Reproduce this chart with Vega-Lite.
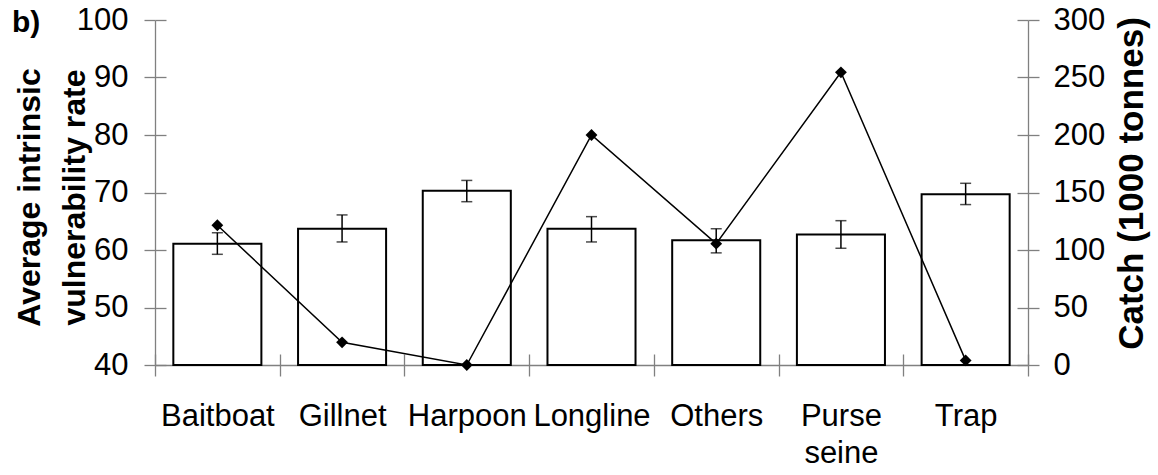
{
  "$schema": "https://vega.github.io/schema/vega-lite/v6.json",
  "width": 873,
  "height": 345,
  "autosize": "none",
  "padding": {"left": 155, "top": 20, "right": 130, "bottom": 110},
  "background": "white",
  "config": {
    "view": {"stroke": null},
    "font": "Liberation Sans",
    "axis": {
      "domainColor": "#808080",
      "tickColor": "#808080",
      "domainWidth": 1.3,
      "tickWidth": 1.3,
      "labelColor": "black",
      "titleColor": "black",
      "labelFont": "Liberation Sans",
      "titleFont": "Liberation Sans",
      "grid": false
    }
  },
  "title": {
    "text": "b)",
    "anchor": "start",
    "frame": "group",
    "dx": -143,
    "dy": 58,
    "offset": 0,
    "fontSize": 30,
    "fontWeight": "bold",
    "font": "Liberation Sans",
    "color": "black",
    "baseline": "alphabetic"
  },
  "data": {
    "values": [
      {"gear": "Baitboat", "rate": 61.1, "lo": 59.25, "hi": 63.0, "catch": 121.5},
      {"gear": "Gillnet", "rate": 63.7, "lo": 61.4, "hi": 66.1, "catch": 19.7},
      {"gear": "Harpoon", "rate": 70.3, "lo": 68.4, "hi": 72.1, "catch": 0},
      {"gear": "Longline", "rate": 63.7, "lo": 61.4, "hi": 65.8, "catch": 200},
      {"gear": "Others", "rate": 61.7, "lo": 59.5, "hi": 63.7, "catch": 105.5},
      {"gear": "Purse seine", "rate": 62.7, "lo": 60.3, "hi": 65.1, "catch": 254.5},
      {"gear": "Trap", "rate": 69.7, "lo": 67.9, "hi": 71.6, "catch": 4}
    ]
  },
  "layer": [
    {
      "mark": {"type": "bar", "fill": "white", "stroke": "black", "strokeWidth": 2, "width": {"band": 0.706}},
      "encoding": {
        "x": {
          "field": "gear", "type": "nominal", "sort": null,
          "scale": {"paddingInner": 0, "paddingOuter": 0},
          "axis": {
            "orient": "bottom",
            "title": null, "labelAngle": 0, "tickBand": "extent", "tickSize": 11,
            "labelFontSize": 31, "labelPadding": 49, "labelLineHeight": 37,
            "labelBaseline": "alphabetic", "labelOverlap": false,
            "labelExpr": "datum.label == 'Purse seine' ? ['Purse', 'seine'] : datum.label"
          }
        },
        "y": {
          "field": "rate", "type": "quantitative",
          "scale": {"domain": [40, 100], "nice": false, "zero": false},
          "axis": {
            "title": ["Average intrinsic", "vulnerability rate"],
            "titleFontSize": 32, "titleFontWeight": "bold", "titleAngle": 270,
            "titleBaseline": "alphabetic", "titleAlign": "center", "titleLineHeight": 45,
            "titleX": -116, "titleY": 177,
            "values": [40, 50, 60, 70, 80, 90, 100],
            "tickSize": 11, "labelFontSize": 31, "labelPadding": 16
          }
        },
        "y2": {"datum": 40}
      }
    },
    {
      "mark": {"type": "rule", "color": "black", "strokeWidth": 1.5},
      "encoding": {
        "x": {
          "field": "gear", "type": "nominal", "sort": null,
          "axis": {"orient": "bottom", "title": null, "labels": false, "domain": false, "tickBand": "extent", "tickSize": -11}
        },
        "y": {
          "field": "lo", "type": "quantitative",
          "scale": {"domain": [40, 100], "nice": false, "zero": false},
          "axis": {"orient": "left", "title": null, "labels": false, "domain": false, "values": [40, 50, 60, 70, 80, 90, 100], "tickSize": -11}
        },
        "y2": {"field": "hi"}
      }
    },
    {
      "mark": {"type": "tick", "color": "black", "size": 11, "thickness": 1.5},
      "encoding": {
        "x": {"field": "gear", "type": "nominal", "sort": null, "axis": null},
        "y": {"field": "lo", "type": "quantitative", "scale": {"domain": [40, 100], "nice": false, "zero": false}, "axis": null}
      }
    },
    {
      "mark": {"type": "tick", "color": "black", "size": 11, "thickness": 1.5},
      "encoding": {
        "x": {"field": "gear", "type": "nominal", "sort": null, "axis": null},
        "y": {"field": "hi", "type": "quantitative", "scale": {"domain": [40, 100], "nice": false, "zero": false}, "axis": null}
      }
    },
    {
      "mark": {"type": "line", "color": "black", "strokeWidth": 1.5},
      "encoding": {
        "x": {"field": "gear", "type": "nominal", "sort": null, "axis": null},
        "y": {
          "field": "catch", "type": "quantitative",
          "scale": {"domain": [0, 300], "nice": false},
          "axis": {
            "orient": "right", "title": "Catch (1000 tonnes)",
            "titleFontSize": 35, "titleFontWeight": "bold", "titleAngle": 270,
            "titleBaseline": "alphabetic", "titleAlign": "center",
            "titleX": 114, "titleY": 163,
            "values": [0, 50, 100, 150, 200, 250, 300],
            "tickSize": 11, "labelFontSize": 31, "labelPadding": 14
          }
        }
      }
    },
    {
      "mark": {"type": "point", "shape": "diamond", "filled": true, "color": "black", "size": 140, "opacity": 1},
      "encoding": {
        "x": {"field": "gear", "type": "nominal", "sort": null, "axis": null},
        "y": {
          "field": "catch", "type": "quantitative",
          "scale": {"domain": [0, 300], "nice": false},
          "axis": {"orient": "right", "title": null, "labels": false, "domain": false, "values": [0, 50, 100, 150, 200, 250, 300], "tickSize": -11}
        }
      }
    }
  ],
  "resolve": {"scale": {"y": "independent"}, "axis": {"x": "independent", "y": "independent"}}
}
